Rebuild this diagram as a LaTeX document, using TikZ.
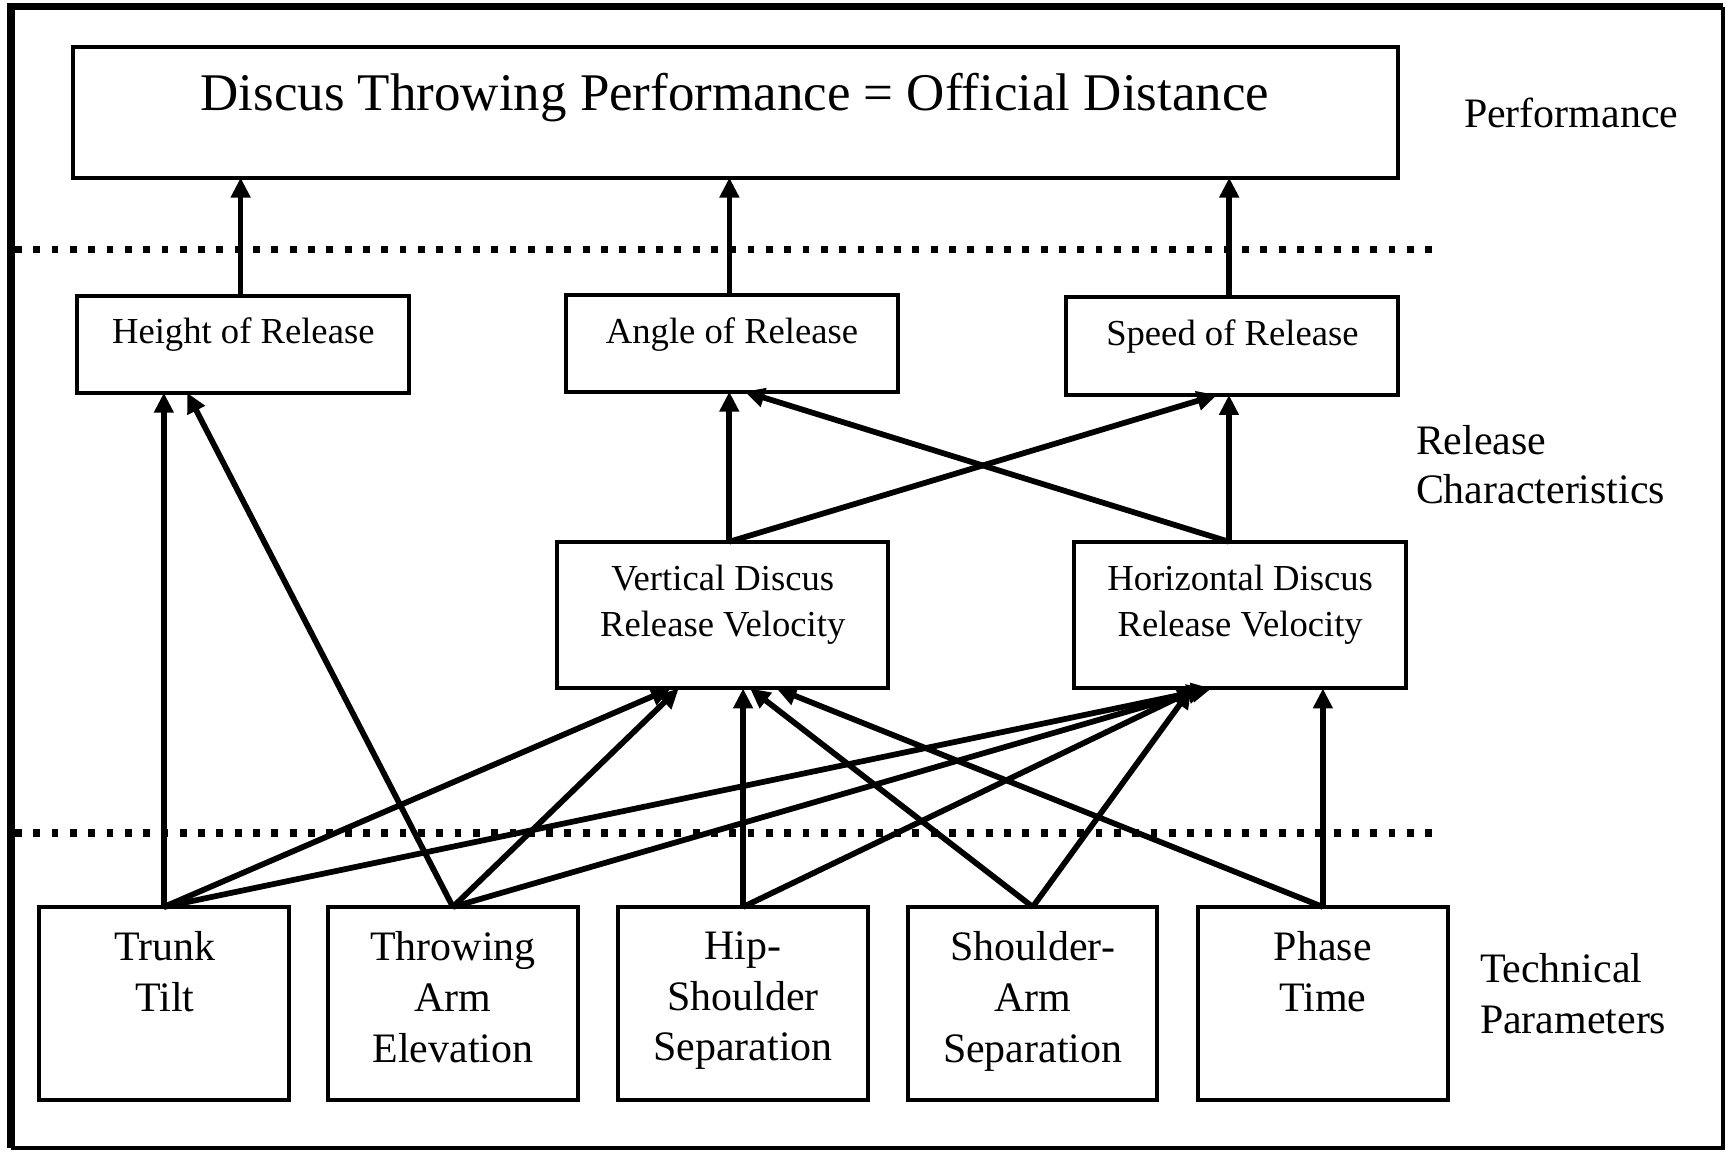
\documentclass[tikz,border=0pt]{standalone}
\usepackage{fontspec}
\setmainfont{Liberation Serif}
\usetikzlibrary{arrows.meta,calc}
\begin{document}
\begin{tikzpicture}[x=0.5pt,y=-0.5pt,
  box/.style={draw, line width=1.8pt, inner sep=0pt, outer sep=0pt},
  relbox/.style={box, minimum width=150.5pt, minimum height=44pt},
  velbox/.style={box, minimum width=150.5pt, minimum height=66.5pt},
  techbox/.style={box, minimum width=113pt, minimum height=87.5pt},
  arr/.style={line width=2.6pt, -{Triangle[length=9pt,width=8.5pt]}},
  levelsep/.style={line width=3.4pt, dash pattern=on 3.1pt off 5.2pt},
  smalltxt/.style={font=\fontsize{16.6}{20.5}\selectfont, inner sep=0pt, align=center},
  bigtxt/.style={font=\fontsize{19}{23}\selectfont, inner sep=0pt, align=center},
]
\useasboundingbox (0,0) rectangle (1568,1045);

% outer frame
\draw[line width=3.5pt] (10,1040.5) -- (10,6) -- (1562,6);
\draw[line width=1.8pt] (1562,6) -- (1562,1040.5) -- (10,1040.5);

% level separators
\draw[levelsep] (13.6,226) -- (1298,226);
\draw[levelsep] (13.6,755) -- (1298,755);

% performance
\node[box, minimum width=600.5pt, minimum height=59pt] (perf) at (666.5,102) {};
\node[inner sep=0pt, font=\fontsize{24}{28}\selectfont, anchor=base] (perfT) at (666,100)
  {Discus Throwing Performance = Official Distance};

% release characteristics
\node[relbox] (hgt) at (220.5,312) {};
\node[relbox] (ang) at (663.5,311) {};
\node[relbox, minimum height=44.5pt] (spd) at (1116.5,313.5) {};
\node[smalltxt, anchor=base] (hgtT) at (220.5,311) {Height of Release};
\node[smalltxt, anchor=base] (angT) at (663.5,311) {Angle of Release};
\node[smalltxt, anchor=base] (spdT) at (1117,313) {Speed of Release};

\node[velbox, minimum width=150pt] (vvel) at (655,557.5) {};
\node[velbox] (hvel) at (1123.5,557.5) {};
\node[smalltxt, anchor=north] (vvelT) at (655,512) {Vertical Discus\\Release Velocity};
\node[smalltxt, anchor=north] (hvelT) at (1124,512) {Horizontal Discus\\Release Velocity};

% technical parameters
\node[techbox] (trunk) at (148.5,909.5) {};
\node[techbox] (arm) at (410.5,909.5) {};
\node[techbox] (hip) at (673.5,909.5) {};
\node[techbox] (sho) at (936,909.5) {};
\node[techbox] (phase) at (1199,909.5) {};
\node[bigtxt, anchor=north] (trunkT) at (149.5,844) {Trunk\\Tilt};
\node[bigtxt, anchor=north] (armT) at (410.5,844) {Throwing\\Arm\\Elevation};
\node[bigtxt, anchor=north] (hipT) at (673.5,844) {Hip-\\Shoulder\\Separation};
\node[bigtxt, anchor=north] (shoT) at (936,844) {Shoulder-\\Arm\\Separation};
\node[bigtxt, anchor=north] (phaseT) at (1199,844) {Phase\\Time};

% level labels
\node[bigtxt, anchor=base] (perfLbl) at (1424,116) {Performance};
\node[inner sep=0pt, font=\fontsize{19}{22.5}\selectfont, align=left, anchor=north west] (relLbl) at (1283,385) {Release\\Characteristics};
\node[inner sep=0pt, font=\fontsize{19}{23}\selectfont, align=left, anchor=north west] (techLbl) at (1341,864) {Technical\\Parameters};

% attachment points
\coordinate (hgtN) at ($(hgt.north west)!0.492!(hgt.north east)$);
\coordinate (angN) at ($(ang.north west)!0.492!(ang.north east)$);
\coordinate (spdN) at ($(spd.north west)!0.492!(spd.north east)$);
\coordinate (vN) at ($(vvel.north west)!0.52!(vvel.north east)$);
\coordinate (hN) at ($(hvel.north west)!0.468!(hvel.north east)$);

% release characteristics -> performance
\draw[arr] (hgtN) -- (hgtN |- perf.south);
\draw[arr] (angN) -- (angN |- perf.south);
\draw[arr] (spdN) -- (spdN |- perf.south);

% release velocities -> angle / speed
\draw[arr] (vN) -- (vN |- ang.south);
\draw[arr] (vN) -- ($(spd.south west)!0.455!(spd.south east)$);
\draw[arr] (hN) -- ($(ang.south west)!0.538!(ang.south east)$);
\draw[arr] (hN) -- (hN |- spd.south);

% technical parameters -> release
\draw[arr] (trunk.north) -- (trunk.north |- hgt.south);
\draw[arr] (arm.north) -- ($(hgt.south west)!0.331!(hgt.south east)$);
\draw[arr] (trunk.north) -- ($(vvel.south west)!0.343!(vvel.south east)$);
\draw[arr] (arm.north) -- ($(vvel.south west)!0.367!(vvel.south east)$);
\draw[arr] (hip.north) -- (hip.north |- vvel.south);
\draw[arr] (sho.north) -- ($(vvel.south west)!0.583!(vvel.south east)$);
\draw[arr] (phase.north) -- ($(vvel.south west)!0.663!(vvel.south east)$);
\draw[arr] (trunk.north) -- ($(hvel.south west)!0.415!(hvel.south east)$);
\draw[arr] (arm.north) -- ($(hvel.south west)!0.402!(hvel.south east)$);
\draw[arr] (hip.north) -- ($(hvel.south west)!0.372!(hvel.south east)$);
\draw[arr] (sho.north) -- ($(hvel.south west)!0.355!(hvel.south east)$);
\draw[arr] (phase.north) -- (phase.north |- hvel.south);
\end{tikzpicture}
\end{document}
